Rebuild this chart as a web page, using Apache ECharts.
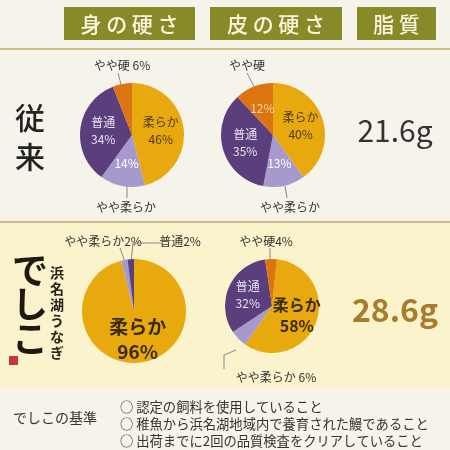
<!DOCTYPE html>
<html><head><meta charset="utf-8">
<script src="https://cdn.jsdelivr.net/npm/echarts@6/dist/echarts.min.js"></script>
<style>html,body{margin:0;padding:0;background:#f6f3ea}#c{width:450px;height:450px}</style>
</head><body><div id="c"></div>
<script>
const categories = ['柔らか','やや柔らか','普通','やや硬'];
const conv_body = [46,14,34,6];
const conv_skin = [40,13,35,12];
const deshiko_body = [96,2,2];
const deshiko_skin = [58,6,32,4];
const fat = ['21.6g','28.6g'];
const headers = ['身の硬さ','皮の硬さ','脂質'];
const criteria = ['○ 認定の飼料を使用していること','○ 稚魚から浜名湖地域内で養育された鰻であること','○ 出荷までに2回の品質検査をクリアしていること'];
const colors = ['#e8a90f','#a899cc','#5b3e7c','#dd7412'];
const F = '"Noto Sans CJK JP"';

function pie(center, r, vals, labels, start){
  return {type:'pie', center, radius:r, startAngle:start||90, silent:true, animation:false,
    itemStyle:{borderWidth:0},
    label:{show:false}, labelLine:{show:false},
    data: vals.map((v,i)=>({value:v, name:categories[i], itemStyle:{color:colors[i]},
      label: labels[i] ? Object.assign({show:true, position:'inside', fontFamily:F, lineHeight:17}, labels[i]) : {show:false}}))
  };
}
const dark = '#4a3a10', light='#e8e0f4';
const series = [
  pie([132,135],52,conv_body,[{formatter:'柔らか\n'+conv_body[0]+'%',color:dark,fontSize:12},{formatter:conv_body[1]+'%',color:'#fff',fontSize:12},{formatter:'普通\n'+conv_body[2]+'%',color:light,fontSize:12},null]),
  pie([273,135],52,conv_skin,[{formatter:'柔らか\n'+conv_skin[0]+'%',color:dark,fontSize:12},{formatter:conv_skin[1]+'%',color:'#fff',fontSize:12},{formatter:'普通\n'+conv_skin[2]+'%',color:light,fontSize:12},{formatter:conv_skin[3]+'%',color:'#f5d9a8',fontSize:12}]),
  pie([134,311],52,deshiko_body,[{formatter:'柔らか\n'+deshiko_body[0]+'%',color:'#3a2c08',fontSize:19,fontWeight:'bold',lineHeight:25},null,null]),
  pie([272,306],47,deshiko_skin,[{formatter:'柔らか\n'+deshiko_skin[0]+'%',color:'#3a2c08',fontSize:16,fontWeight:'bold',lineHeight:21},null,{formatter:'普通\n'+deshiko_skin[2]+'%',color:light,fontSize:12},null],84)
];
const g = [];
g.push({type:'rect',shape:{x:0,y:223,width:450,height:166},style:{fill:'#fbf3cb'},z:-10});
g.push({type:'line',shape:{x1:0,y1:49,x2:450,y2:49},style:{stroke:'#cbbd86',lineWidth:2},z:-5});
g.push({type:'line',shape:{x1:0,y1:222,x2:450,y2:222},style:{stroke:'#cbbd86',lineWidth:2},z:-5});
const hb=[[64,131],[210,132],[357,79]];
headers.forEach((h,i)=>{
  g.push({type:'rect',shape:{x:hb[i][0],y:7,width:hb[i][1],height:33},style:{fill:'#878a27'}});
  g.push({type:'text',x:hb[i][0]+hb[i][1]/2,y:24,style:{text:h.split('').join(' '),fill:'#fbf6df',font:'500 21px '+F,align:'center',verticalAlign:'middle'}});
});
g.push({type:'text',x:30,y:118,style:{text:'従',fill:'#222',font:'500 30px '+F,align:'center',verticalAlign:'middle'}});
g.push({type:'text',x:30,y:157,style:{text:'来',fill:'#222',font:'500 30px '+F,align:'center',verticalAlign:'middle'}});
g.push({type:'text',x:395,y:131,style:{text:fat[0],fill:'#333',font:'30px '+F,align:'center',verticalAlign:'middle'}});
g.push({type:'text',x:395,y:310,style:{text:fat[1],fill:'#a87c2a',font:'bold 32px '+F,align:'center',verticalAlign:'middle'}});
['で','し','こ'].forEach((c,i)=>g.push({type:'text',x:30,y:270+i*34,style:{text:c,fill:'#1e1a12',font:'bold 36px '+F,align:'center',verticalAlign:'middle'}}));
'浜名湖うなぎ'.split('').forEach((c,i)=>g.push({type:'text',x:57,y:273+i*16,style:{text:c,fill:'#2a2418',font:'bold 14px '+F,align:'center',verticalAlign:'middle'}}));
g.push({type:'rect',shape:{x:9,y:356,width:9,height:9},style:{fill:'#c8343a'}});
function lab(x,y,t,al){g.push({type:'text',x,y,style:{text:t,fill:'#333',font:'12px '+F,align:al||'center',verticalAlign:'middle'}});}
function ln(pts){g.push({type:'polyline',shape:{points:pts},style:{stroke:'#888',lineWidth:1,fill:null}});}
lab(122,65,'やや硬 '+conv_body[3]+'%'); ln([[118,73],[122,88]]);
lab(126,207,'やや柔らか'); ln([[127,186],[127,198]]);
lab(247,65,'やや硬'); ln([[247,73],[257,92]]);
lab(290,207,'やや柔らか'); ln([[285,186],[287,198]]);
lab(103,241,'やや柔らか'+deshiko_body[1]+'%'); ln([[120,248],[125,262]]);
lab(180,241,'普通'+deshiko_body[2]+'%'); ln([[161,243],[133,243],[131,262]]);
lab(266,241,'やや硬'+deshiko_skin[3]+'%'); ln([[270,248],[270,260]]);
lab(276,377,'やや柔らか '+deshiko_skin[1]+'%'); ln([[236,350],[224,355],[224,369]]);
g.push({type:'text',x:55,y:418,style:{text:'でしこの基準',fill:'#333',font:'14px '+F,align:'center',verticalAlign:'middle'}});
criteria.forEach((t,i)=>g.push({type:'text',x:120,y:407+i*17,style:{text:t,fill:'#333',font:'13.3px '+F,align:'left',verticalAlign:'middle'}}));
const chart = echarts.init(document.getElementById('c'));
chart.setOption({backgroundColor:'#f6f3ea',animation:false,series,graphic:{elements:g}});
</script></body></html>
